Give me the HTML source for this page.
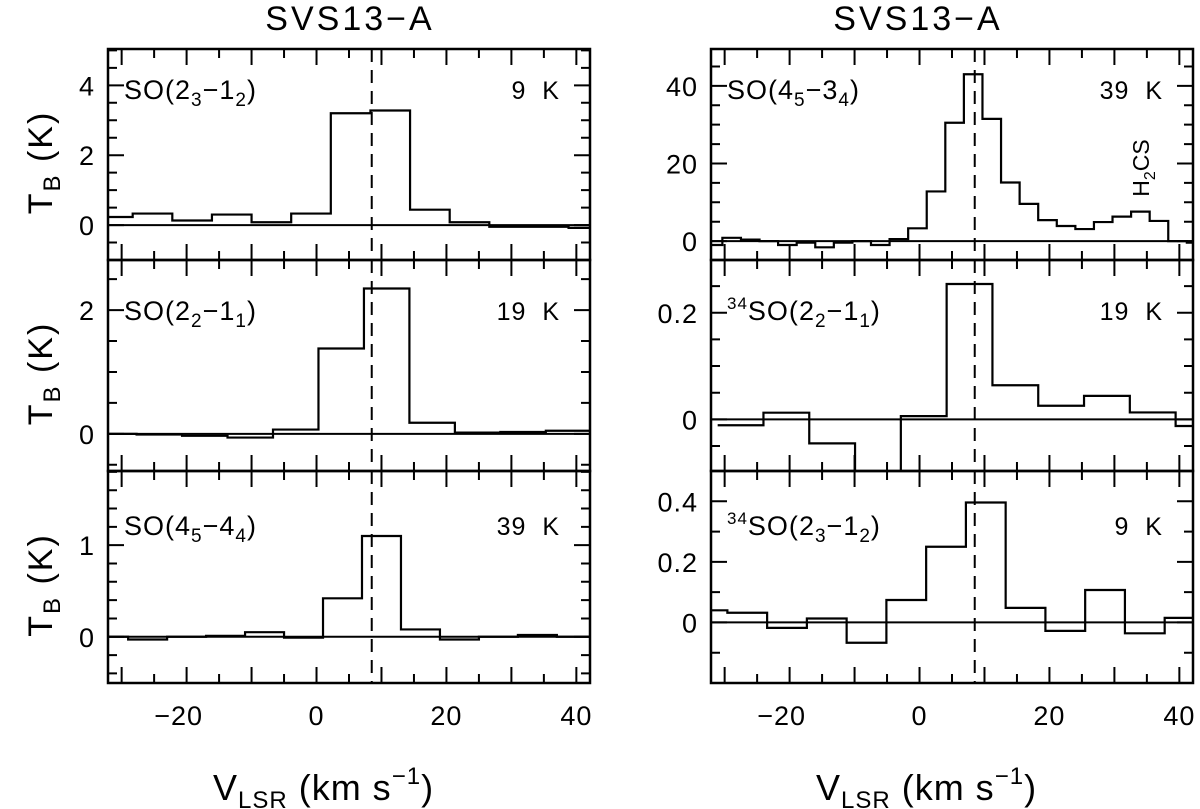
<!DOCTYPE html>
<html><head><meta charset="utf-8"><style>
html,body{margin:0;padding:0;background:#fff;}
svg{display:block;font-family:"Liberation Sans",sans-serif;}
</style></head><body>
<svg id="fig" width="1200" height="809" viewBox="0 0 1200 809" xmlns="http://www.w3.org/2000/svg">
<text x="350" y="30" font-size="34" text-anchor="middle" letter-spacing="3">SVS13−A</text>
<text x="918" y="30" font-size="34" text-anchor="middle" letter-spacing="3">SVS13−A</text>
<text x="213" y="800" font-size="36" letter-spacing="1">V<tspan font-size="24" dy="8">LSR</tspan><tspan dy="-8"> (km s</tspan><tspan font-size="24" dy="-16">−1</tspan><tspan dy="16">)</tspan></text>
<text x="816" y="800" font-size="36" letter-spacing="1">V<tspan font-size="24" dy="8">LSR</tspan><tspan dy="-8"> (km s</tspan><tspan font-size="24" dy="-16">−1</tspan><tspan dy="16">)</tspan></text>
<g id="plots"></g>
</svg>
<script>
// velocity axis
const velMin = -32.1, velMax = 42.1;
const sysVel = 8.5;
const xTickLabels = [-20, 0, 20, 40];

// Panel data: bin-centre velocities (km/s) and brightness temperatures (K)
const so23Vel = [-31.35,-25.25,-19.15,-13.05,-6.95,-0.85,5.25,11.35,17.45,23.55,29.65,35.75,41.85];
const so23Tb  = [0.23,0.33,0.13,0.3,0.08,0.33,3.2,3.28,0.44,0.08,-0.05,-0.05,-0.08];
const so22Vel = [-31.2,-24.2,-17.2,-10.2,-3.2,3.8,10.8,17.8,24.8,31.8,38.8];
const so22Tb  = [0,-0.01,-0.03,-0.06,0.07,1.38,2.35,0.18,0.02,0.03,0.05];
const so45Vel = [-32,-26,-20,-14,-8,-2,4,10,16,22,28,34,40];
const so45Tb  = [0,-0.03,0,0.01,0.05,-0.01,0.42,1.1,0.08,-0.03,0,0.02,0];
const so4534Vel = [-31.78,-28.92,-26.06,-23.2,-20.34,-17.48,-14.62,-11.76,-8.9,-6.04,-3.18,-0.32,2.54,5.4,8.26,11.12,13.98,16.84,19.7,22.56,25.42,28.28,31.14,34.0,36.86,39.72,42.58];
const so4534Tb  = [-1.0,0.85,0.4,0,-1,-0.4,-1.6,-0.4,0,-1,0.5,3.3,12.8,30.5,43,31.5,15.1,9.6,5.4,3.9,3.1,4.9,6.3,7.6,5.2,0,-0.4];
const s34so22Vel = [-27.55,-20.5,-13.45,-6.4,0.65,7.7,14.75,21.8,28.85,35.9,42.95];
const s34so22Tb  = [-0.011,0.0125,-0.045,-0.13,0.006,0.254,0.064,0.0255,0.044,0.013,-0.0125];
const s34so23Vel = [-32.64,-26.52,-20.4,-14.28,-8.16,-2.04,4.08,10.2,16.32,22.44,28.56,34.68,40.8];
const s34so23Tb  = [0.04,0.032,-0.018,0.013,-0.067,0.074,0.25,0.396,0.048,-0.028,0.107,-0.036,0.015];

// y ranges / ticks per panel
const yRanges = [[-1,5.04],[-0.6,2.81],[-0.505,1.81],[-4.87,49.5],[-0.0969,0.299],[-0.2,0.5]];
const yMajorLabels = [[0,2,4],[0,2],[0,1],[0,20,40],[0,0.2],[0,0.2,0.4]];
const yMinorSteps = [0.5,0.5,0.2,5,0.05,0.1];
const lineNames = ["SO(2_3−1_2)","SO(2_2−1_1)","SO(4_5−4_4)","SO(4_5−3_4)","34SO(2_2−1_1)","34SO(2_3−1_2)"];
const eupLabels = ["9 K","19 K","39 K","39 K","19 K","9 K"];

const panelVel = [so23Vel, so22Vel, so45Vel, so4534Vel, s34so22Vel, s34so23Vel];
const panelTb = [so23Tb, so22Tb, so45Tb, so4534Tb, s34so22Tb, s34so23Tb];

const NS = "http://www.w3.org/2000/svg";
const root = document.getElementById('plots');
const cols = [[108,590],[711,1193]];
const rows = [[49,260],[260,471],[471,683]];

function mk(tag, attrs, parent){
  const e = document.createElementNS(NS, tag);
  for (const k in attrs) e.setAttribute(k, attrs[k]);
  parent.appendChild(e);
  return e;
}
function fmt(v){ return (v<0?"−":"") + String(Math.abs(v)); }

for (let p = 0; p < 6; p++) {
  const c = cols[Math.floor(p/3)], r = rows[p%3];
  const x0=c[0], x1=c[1], yTop=r[0], yBot=r[1];
  const [ymin, ymax] = yRanges[p];
  const X = v => x0 + (v - velMin) / (velMax - velMin) * (x1 - x0);
  const Y = t => yBot - (t - ymin) / (ymax - ymin) * (yBot - yTop);
  const g = mk('g', {}, root);
  
  
  const cid = 'clip' + p;
  const cp = mk('clipPath', {id: cid}, g);
  mk('rect', {x:x0, y:yTop, width:x1-x0, height:yBot-yTop}, cp);

  const zl = mk('line', {x1:x0, x2:x1, y1:Y(0), y2:Y(0), stroke:'#000', 'stroke-width':2}, g);
  
  

  const dl = mk('line', {x1:X(sysVel), x2:X(sysVel), y1:yTop, y2:yBot, stroke:'#000', 'stroke-width':2, 'stroke-dasharray':'13 8'}, g);
  
  

  const vel = panelVel[p], tb = panelTb[p];
  let d = '';
  for (let i = 0; i < vel.length; i++) {
    const w = i < vel.length-1 ? vel[i+1]-vel[i] : vel[i]-vel[i-1];
    const wl = i > 0 ? vel[i]-vel[i-1] : w;
    const left = vel[i] - wl/2, right = vel[i] + w/2;
    const yy = Y(tb[i]);
    d += (i===0 ? 'M' + X(left) + ',' + yy : 'L' + X(left) + ',' + yy) + 'L' + X(right) + ',' + yy;
  }
  const sp = mk('path', {d:d, fill:'none', stroke:'#000', 'stroke-width':2.2, 'clip-path':'url(#'+cid+')'}, g);
  
  

  const fr = mk('rect', {x:x0, y:yTop, width:x1-x0, height:yBot-yTop, fill:'none', stroke:'#000', 'stroke-width':2.5}, g);
  
  

  let td = '';
  for (let v = -30; v <= velMax; v += 5) {
    const L = (v % 10 === 0) ? 16 : 9;
    const xx = X(v);
    td += 'M'+xx+','+yTop+'v'+L+'M'+xx+','+yBot+'v'+(-L);
  }
  const ms = yMinorSteps[p];
  const startK = Math.ceil(ymin/ms - 1e-6);
  for (let k = startK; k*ms <= ymax + 1e-9; k++) {
    const t = k*ms;
    const major = yMajorLabels[p].some(m => Math.abs(m - t) < 1e-6);
    const L = major ? 16 : 9;
    const yy = Y(t);
    td += 'M'+x0+','+yy+'h'+L+'M'+x1+','+yy+'h'+(-L);
  }
  const tk = mk('path', {d:td, stroke:'#000', 'stroke-width':2, fill:'none'}, g);
  
  

  yMajorLabels[p].forEach(t => {
    const tl = mk('text', {x:x0-13, y:Y(t)+10, 'font-size':27, 'text-anchor':'end', 'letter-spacing':1}, g);
    tl.textContent = fmt(t);
    
    
  });
  if (p % 3 === 2) {
    xTickLabels.forEach(v => {
      const tl = mk('text', {x:X(v) - (v<0?8:0), y:725, 'font-size':27, 'text-anchor':'middle', 'letter-spacing':1}, g);
      tl.textContent = fmt(v);
      
      
    });
  }
  if (p < 3) {
    const yc = (yTop+yBot)/2 + 8;
    const yt = mk('text', {x:0, y:0, 'font-size':34, 'text-anchor':'middle', 'letter-spacing':2, transform:'translate(52,'+yc+') rotate(-90)'}, g);
    yt.innerHTML = 'T<tspan font-size="24" dy="8">B</tspan><tspan dy="-8">  (K)</tspan>';
    
    
  }

  const name = lineNames[p];
  const ly = yTop + (p%3===0 ? 50 : (p%3===1 ? 60 : 64));
  const lbl = mk('text', {x:x0+16, y:ly, 'font-size':27, 'letter-spacing':1}, g);
  const m = name.match(/^(34)?SO\((\d)_(\d)−(\d)_(\d)\)$/);
  let html = '';
  if (m[1]) html += '<tspan font-size="17" dy="-11">34</tspan><tspan dy="11">SO(</tspan>';
  else html += 'SO(';
  html += m[2] + '<tspan font-size="19" dy="7">' + m[3] + '</tspan><tspan dy="-7">−' + m[4] + '</tspan><tspan font-size="19" dy="7">' + m[5] + '</tspan><tspan dy="-7">)</tspan>';
  lbl.innerHTML = html;
  
  

  const eu = mk('text', {x:x1-30, y:ly, 'font-size':25, 'text-anchor':'end', 'letter-spacing':1}, g);
  eu.textContent = eupLabels[p].replace(' ', '\u00a0\u00a0');
  
  

  if (p === 3) {
    const h = mk('text', {x:0, y:0, 'font-size':23, 'text-anchor':'middle', transform:'translate(1149,168) rotate(-90)'}, g);
    h.innerHTML = 'H<tspan font-size="16" dy="6">2</tspan><tspan dy="-6">CS</tspan>';
    
    
  }
}
</script>
</body></html>
